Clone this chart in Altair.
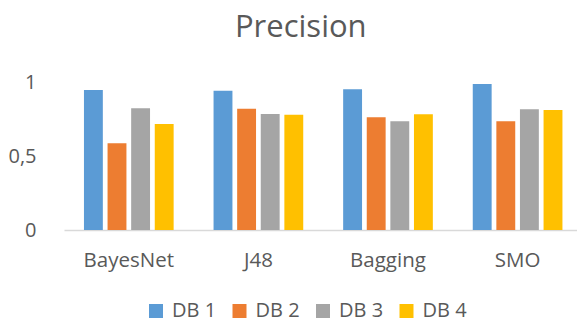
import altair as alt
import pandas as pd

classifiers = ["BayesNet", "J48", "Bagging", "SMO"]
series = ["DB 1", "DB 2", "DB 3", "DB 4"]
db1 = [0.949, 0.944, 0.954, 0.990]
db2 = [0.588, 0.822, 0.764, 0.737]
db3 = [0.825, 0.786, 0.737, 0.818]
db4 = [0.719, 0.782, 0.784, 0.814]
colors = ["#5B9BD5", "#ED7D31", "#A5A5A5", "#FFC000"]

rows = []
for s, vals in zip(series, [db1, db2, db3, db4]):
    for c, v in zip(classifiers, vals):
        rows.append({"classifier": c, "db": s, "value": v})
df = pd.DataFrame(rows)

FONT = "Open Sans"
TXT = "#595959"

chart = alt.Chart(df).mark_bar().encode(
    x=alt.X("classifier:N", sort=classifiers,
            scale=alt.Scale(range=[0, 518.4], paddingInner=0.308, paddingOuter=0.154),
            axis=alt.Axis(title=None, labelAngle=0, ticks=False, domainColor="#D9D9D9",
                          domainWidth=1.5, labelFontSize=20.5, labelColor=TXT, labelFont=FONT,
                          labelPadding=20)),
    xOffset=alt.XOffset("db:N", sort=series, scale=alt.Scale(paddingInner=0.2, paddingOuter=0)),
    y=alt.Y("value:Q", scale=alt.Scale(domain=[0, 1.2], nice=False),
            axis=alt.Axis(title=None, values=[0, 0.5, 1], grid=False, domain=False, ticks=False,
                          labelExpr="replace(format(datum.value, '~g'), '.', ',')",
                          labelFontSize=20, labelColor=TXT, labelFont=FONT, labelPadding=28)),
    color=alt.Color("db:N", sort=series, scale=alt.Scale(domain=series, range=colors),
                    legend=alt.Legend(title=None, orient="none", legendX=82, legendY=248,
                                      direction="horizontal", symbolType="square",
                                      symbolSize=196, symbolStrokeWidth=0, labelFontSize=20,
                                      labelColor=TXT, labelFont=FONT, labelOffset=6,
                                      columnPadding=12.5)),
).properties(
    width=513, height=177,
    title=alt.TitleParams("Precision", font=FONT, fontSize=31, fontWeight="normal", color=TXT,
                          anchor="start", dx=227, offset=9),
    autosize=alt.AutoSizeParams(type="none"),
    padding={"left": 64, "top": 53, "right": 0, "bottom": 94},
).configure_view(stroke=None)

chart.save("out.html", embed_options={"renderer": "svg", "actions": False})
